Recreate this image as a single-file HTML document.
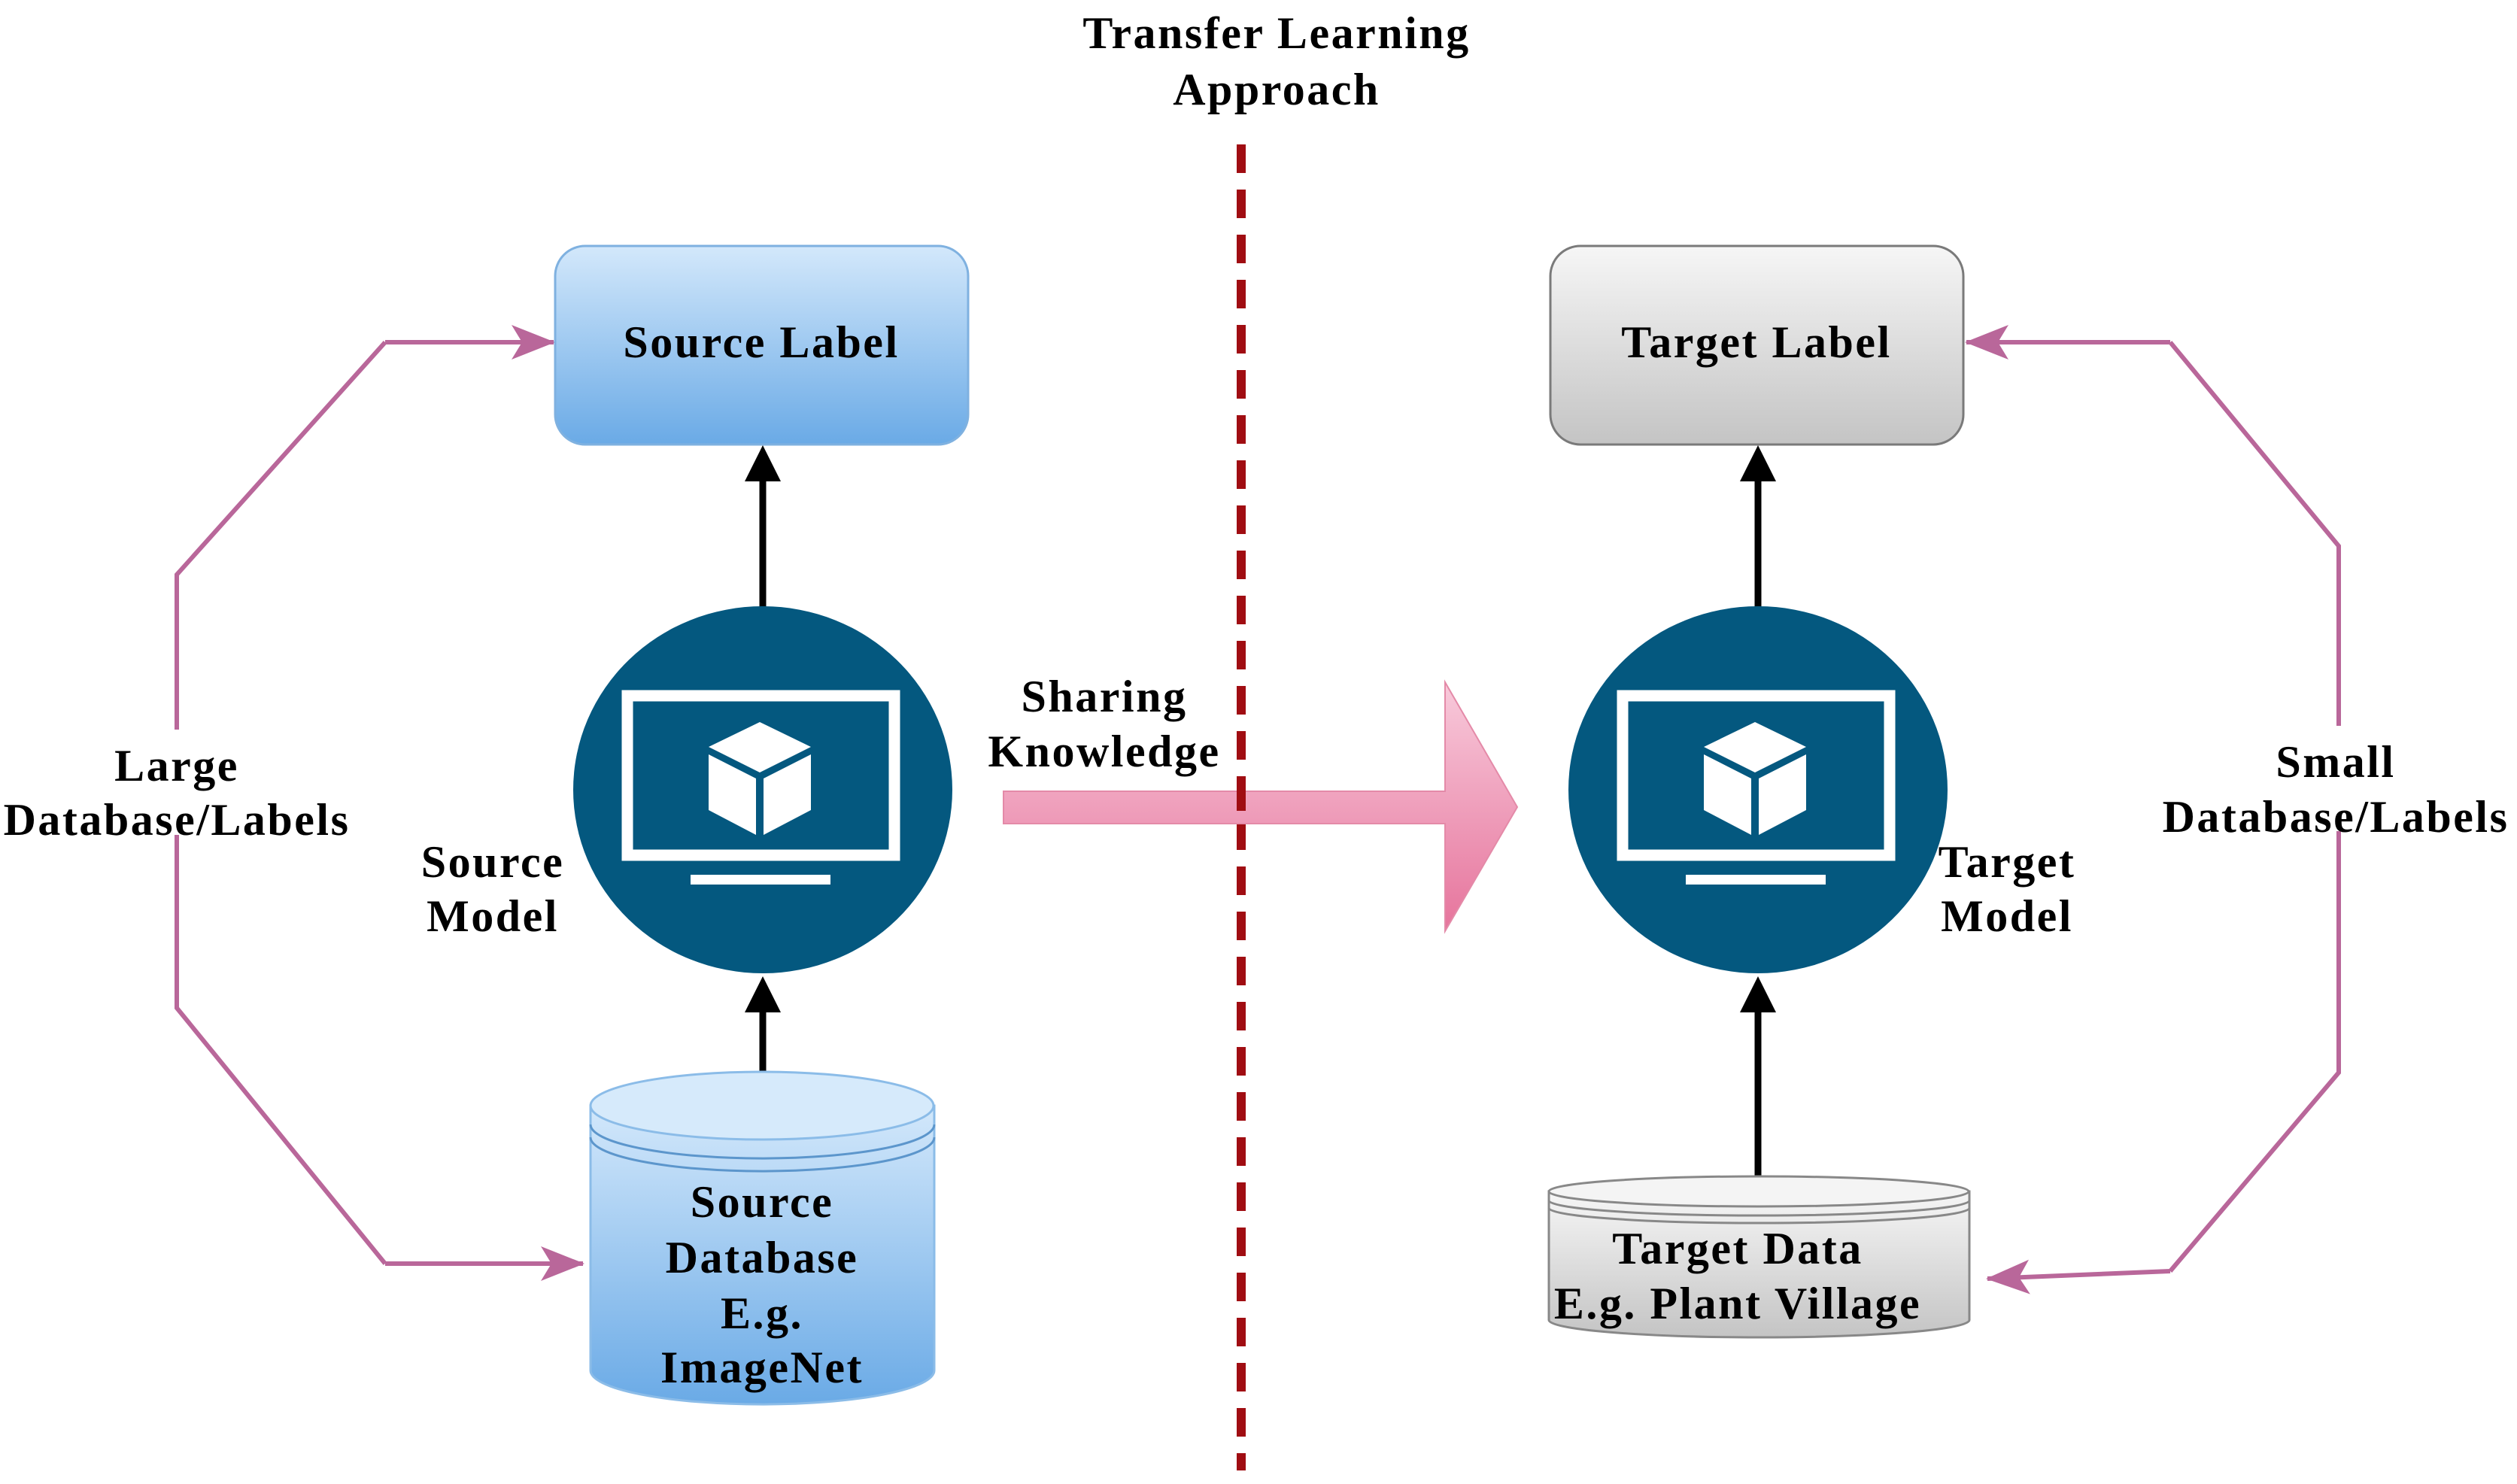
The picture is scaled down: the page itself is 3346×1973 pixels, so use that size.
<!DOCTYPE html>
<html><head><meta charset="utf-8"><style>html,body{margin:0;padding:0;background:#fff}svg{display:block}</style></head>
<body>
<svg width="3346" height="1973" viewBox="0 0 3346 1973" xmlns="http://www.w3.org/2000/svg" font-family="'Liberation Serif', serif" font-weight="bold" letter-spacing="2.5">
<defs>
<linearGradient id="blue" x1="0" y1="0" x2="0" y2="1"><stop offset="0" stop-color="#d3e8fb"/><stop offset="1" stop-color="#6aaae6"/></linearGradient>
<linearGradient id="gray" x1="0" y1="0" x2="0" y2="1"><stop offset="0" stop-color="#f6f6f6"/><stop offset="1" stop-color="#c4c4c4"/></linearGradient>
<linearGradient id="pink" x1="0" y1="0" x2="0" y2="1"><stop offset="0" stop-color="#f8cadb"/><stop offset="1" stop-color="#e6749c"/></linearGradient>
<marker id="pah" markerWidth="60" markerHeight="50" refX="56" refY="25" orient="auto" markerUnits="userSpaceOnUse"><path d="M0,2 L58,25 L0,48 L14,25 Z" fill="#b9679a"/></marker>
</defs>

<text x="1697" y="64" font-size="60" text-anchor="middle">Transfer Learning</text>
<text x="1697" y="139" font-size="60" text-anchor="middle">Approach</text>

<line x1="1650" y1="192" x2="1650" y2="1955" stroke="#a00d12" stroke-width="12" stroke-dasharray="38 22"/>

<polyline points="512,455 235,764 235,1340 512,1680" fill="none" stroke="#b9679a" stroke-width="6"/>
<line x1="512" y1="455" x2="736" y2="455" stroke="#b9679a" stroke-width="6" marker-end="url(#pah)"/>
<line x1="512" y1="1680" x2="775" y2="1680" stroke="#b9679a" stroke-width="6" marker-end="url(#pah)"/>
<polyline points="2885,455 3109,726 3109,1426 2885,1690" fill="none" stroke="#b9679a" stroke-width="6"/>
<line x1="2885" y1="455" x2="2614" y2="455" stroke="#b9679a" stroke-width="6" marker-end="url(#pah)"/>
<line x1="2885" y1="1690" x2="2642" y2="1700" stroke="#b9679a" stroke-width="6" marker-end="url(#pah)"/>

<rect x="5" y="970" width="460" height="140" fill="#fff"/>
<text x="235" y="1038" font-size="60" text-anchor="middle">Large</text>
<text x="235" y="1110" font-size="60" text-anchor="middle">Database/Labels</text>
<rect x="2875" y="965" width="465" height="140" fill="#fff"/>
<text x="3105" y="1033" font-size="60" text-anchor="middle">Small</text>
<text x="3105" y="1106" font-size="60" text-anchor="middle">Database/Labels</text>

<rect x="738" y="327" width="549" height="264" rx="40" fill="url(#blue)" stroke="#7fb1e0" stroke-width="3"/>
<text x="1012" y="475" font-size="60" text-anchor="middle">Source Label</text>
<rect x="2061" y="327" width="549" height="264" rx="40" fill="url(#gray)" stroke="#7a7a7a" stroke-width="3"/>
<text x="2335" y="475" font-size="60" text-anchor="middle">Target Label</text>

<g stroke="#000" stroke-width="9">
<line x1="1014" y1="807" x2="1014" y2="630"/>
<line x1="1014" y1="1425" x2="1014" y2="1330"/>
<line x1="2337" y1="807" x2="2337" y2="630"/>
<line x1="2337" y1="1564" x2="2337" y2="1330"/>
</g>
<g fill="#000">
<path d="M1014,592 L990,640 L1038,640 Z"/>
<path d="M1014,1298 L990,1346 L1038,1346 Z"/>
<path d="M2337,592 L2313,640 L2361,640 Z"/>
<path d="M2337,1298 L2313,1346 L2361,1346 Z"/>
</g>

<g>
<ellipse cx="1014" cy="1050" rx="252" ry="244" fill="#04587f"/>
<rect x="834" y="925" width="355" height="212" fill="none" stroke="#fff" stroke-width="15"/>
<rect x="918" y="1163" width="186" height="13" fill="#fff"/>
<g transform="translate(1010,1035)">
<path d="M0,-75 L68,-42 L0,-8 L-68,-42 Z" fill="#fff"/>
<path d="M-68,-32 L-5,0 L-5,75 L-68,42 Z" fill="#fff"/>
<path d="M68,-32 L5,0 L5,75 L68,42 Z" fill="#fff"/>
</g>
</g>
<g transform="translate(1323,0)">
<ellipse cx="1014" cy="1050" rx="252" ry="244" fill="#04587f"/>
<rect x="834" y="925" width="355" height="212" fill="none" stroke="#fff" stroke-width="15"/>
<rect x="918" y="1163" width="186" height="13" fill="#fff"/>
<g transform="translate(1010,1035)">
<path d="M0,-75 L68,-42 L0,-8 L-68,-42 Z" fill="#fff"/>
<path d="M-68,-32 L-5,0 L-5,75 L-68,42 Z" fill="#fff"/>
<path d="M68,-32 L5,0 L5,75 L68,42 Z" fill="#fff"/>
</g>
</g>
<text x="655" y="1166" font-size="60" text-anchor="middle">Source</text>
<text x="655" y="1238" font-size="60" text-anchor="middle">Model</text>
<text x="2668" y="1166" font-size="60" text-anchor="middle">Target</text>
<text x="2668" y="1238" font-size="60" text-anchor="middle">Model</text>

<text x="1468" y="946" font-size="60" text-anchor="middle">Sharing</text>
<text x="1468" y="1019" font-size="60" text-anchor="middle">Knowledge</text>
<path d="M1334,1052 L1921,1052 L1921,907 L2017,1073 L1921,1238 L1921,1095 L1334,1095 Z" fill="url(#pink)" stroke="#e48aa8" stroke-width="2"/>
<line x1="1650" y1="1040" x2="1650" y2="1105" stroke="#a00d12" stroke-width="12" stroke-dasharray="38 22"/>

<path d="M785,1470 L785,1822 A228,45 0 0 0 1242,1822 L1242,1470 Z" fill="url(#blue)" stroke="#8bbce8" stroke-width="3"/>
<ellipse cx="1013" cy="1470" rx="228" ry="45" fill="#d6eafb" stroke="#8bbce8" stroke-width="3"/>
<path d="M785,1495 A228,45 0 0 0 1242,1495" fill="none" stroke="#5c96cc" stroke-width="3"/>
<path d="M785,1512 A228,45 0 0 0 1242,1512" fill="none" stroke="#5c96cc" stroke-width="3"/>
<text x="1013" y="1618" font-size="60" text-anchor="middle">Source</text>
<text x="1013" y="1692" font-size="60" text-anchor="middle">Database</text>
<text x="1013" y="1766" font-size="60" text-anchor="middle">E.g.</text>
<text x="1013" y="1838" font-size="60" text-anchor="middle">ImageNet</text>

<path d="M2059,1584 L2059,1755 A279,23 0 0 0 2618,1755 L2618,1584 Z" fill="url(#gray)" stroke="#888" stroke-width="3"/>
<ellipse cx="2338" cy="1584" rx="279" ry="20" fill="#f4f4f4" stroke="#888" stroke-width="3"/>
<path d="M2059,1596 A279,20 0 0 0 2618,1596" fill="none" stroke="#888" stroke-width="3"/>
<path d="M2059,1606 A279,20 0 0 0 2618,1606" fill="none" stroke="#888" stroke-width="3"/>
<text x="2310" y="1680" font-size="60" text-anchor="middle">Target Data</text>
<text x="2310" y="1753" font-size="60" text-anchor="middle">E.g. Plant Village</text>
</svg>
</body></html>
